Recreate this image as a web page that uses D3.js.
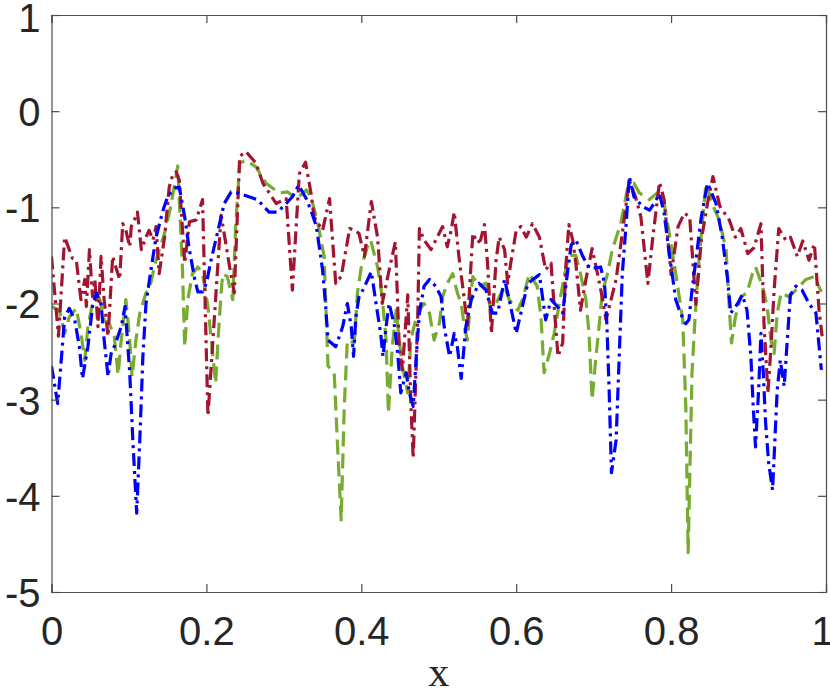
<!DOCTYPE html>
<html>
<head>
<meta charset="utf-8">
<script src="https://cdn.jsdelivr.net/npm/d3@7/dist/d3.min.js"></script>
<style>
  html, body { margin: 0; padding: 0; background: #ffffff; }
  svg { display: block; }
</style>
</head>
<body>
<div id="chart"></div>
<script>
// ---------------- data ----------------
const xTicks = [0, 0.2, 0.4, 0.6, 0.8, 1];
const xTickLabels = ["0", "0.2", "0.4", "0.6", "0.8", "1"];
const yTicks = [-5, -4, -3, -2, -1, 0, 1];
const yTickLabels = ["-5", "-4", "-3", "-2", "-1", "0", "1"];
const xLabel = "x";

// dark red dash-dot series
const redX = [0,0.009,0.017,0.027,0.032,0.038,0.043,0.045,0.049,0.053,0.056,0.060,0.064,0.068,0.073,0.079,0.083,0.088,0.092,0.096,0.101,0.103,0.107,0.111,0.116,0.122,0.126,0.131,0.135,0.139,0.146,0.152,0.157,0.161,0.165,0.172,0.178,0.187,0.195,0.202,0.219,0.230,0.236,0.243,0.251,0.264,0.273,0.290,0.303,0.311,0.320,0.328,0.335,0.339,0.350,0.359,0.367,0.374,0.385,0.391,0.397,0.404,0.413,0.421,0.427,0.436,0.444,0.449,0.453,0.460,0.464,0.467,0.473,0.475,0.481,0.490,0.498,0.505,0.511,0.516,0.520,0.526,0.533,0.537,0.544,0.550,0.554,0.559,0.563,0.568,0.574,0.578,0.585,0.589,0.593,0.600,0.606,0.613,0.621,0.630,0.638,0.645,0.649,0.654,0.660,0.664,0.668,0.673,0.677,0.683,0.690,0.698,0.705,0.711,0.716,0.729,0.737,0.746,0.754,0.761,0.770,0.776,0.785,0.791,0.800,0.809,0.817,0.824,0.832,0.839,0.847,0.854,0.863,0.875,0.883,0.890,0.899,0.907,0.916,0.920,0.925,0.929,0.933,0.939,0.948,0.954,0.963,0.970,0.978,0.985,0.991,0.995];
const redY = [-1.51,-2.34,-1.31,-1.53,-1.55,-1.96,-1.75,-2.03,-1.44,-1.93,-1.75,-2.24,-1.51,-1.96,-2.34,-1.51,-1.62,-1.75,-1.17,-1.24,-1.41,-1.20,-1.13,-1.05,-1.44,-1.31,-1.24,-1.34,-1.20,-1.69,-1.31,-0.79,-0.65,-0.63,-0.72,-1.58,-1.15,-1.13,-0.92,-3.17,-1.08,-1.62,-1.89,-0.47,-0.42,-0.54,-0.75,-0.96,-0.91,-1.86,-0.65,-0.53,-0.85,-1.10,-1.24,-0.91,-1.79,-1.72,-1.22,-1.24,-1.27,-1.51,-0.94,-1.31,-2.00,-1.65,-1.36,-2.45,-2.69,-1.91,-3.04,-3.61,-2.10,-1.22,-1.34,-1.44,-1.31,-1.20,-1.41,-1.24,-1.05,-1.51,-1.96,-2.24,-1.27,-1.37,-1.34,-1.18,-1.58,-2.31,-1.55,-1.31,-1.44,-1.79,-1.58,-1.24,-1.20,-1.31,-1.17,-1.31,-1.65,-1.58,-2.03,-2.55,-2.41,-1.62,-1.18,-1.34,-1.58,-2.07,-1.75,-1.43,-1.69,-1.93,-2.17,-1.75,-1.27,-0.72,-0.89,-1.10,-1.79,-1.34,-0.74,-0.92,-1.70,-1.20,-1.06,-1.10,-2.01,-1.34,-0.96,-0.68,-0.99,-1.13,-1.31,-1.22,-1.48,-1.42,-1.17,-2.22,-2.93,-2.45,-1.86,-1.22,-1.34,-1.31,-1.51,-1.35,-1.55,-1.38,-2.07,-2.34];

// green dashed series
const greenX = [0,0.010,0.017,0.023,0.032,0.038,0.043,0.047,0.053,0.062,0.068,0.075,0.081,0.086,0.090,0.096,0.101,0.104,0.109,0.114,0.122,0.126,0.135,0.146,0.154,0.163,0.169,0.172,0.176,0.182,0.189,0.195,0.202,0.208,0.212,0.215,0.219,0.221,0.227,0.234,0.238,0.243,0.251,0.264,0.277,0.294,0.305,0.316,0.329,0.335,0.344,0.352,0.357,0.365,0.369,0.374,0.378,0.382,0.391,0.395,0.400,0.408,0.412,0.421,0.427,0.432,0.435,0.440,0.445,0.449,0.453,0.460,0.464,0.468,0.473,0.481,0.488,0.494,0.501,0.505,0.511,0.518,0.524,0.529,0.533,0.537,0.542,0.544,0.552,0.561,0.567,0.574,0.585,0.591,0.602,0.608,0.617,0.627,0.632,0.636,0.643,0.649,0.655,0.662,0.668,0.677,0.683,0.690,0.694,0.698,0.703,0.707,0.711,0.718,0.724,0.735,0.744,0.752,0.759,0.772,0.782,0.791,0.797,0.806,0.815,0.819,0.822,0.827,0.831,0.836,0.845,0.853,0.862,0.871,0.875,0.878,0.883,0.890,0.898,0.905,0.909,0.918,0.924,0.929,0.933,0.937,0.942,0.952,0.961,0.974,0.985,0.994];
const greenY = [-2.03,-2.07,-2.31,-2.14,-2.05,-2.31,-2.59,-2.24,-2.00,-1.95,-2.17,-2.22,-2.34,-2.74,-2.38,-1.96,-2.38,-2.76,-2.38,-2.10,-1.89,-1.86,-1.55,-1.27,-0.99,-0.57,-1.62,-2.45,-1.96,-1.69,-1.62,-1.69,-2.03,-2.52,-2.83,-2.38,-1.89,-1.69,-1.72,-1.96,-1.17,-0.54,-0.51,-0.58,-0.75,-0.85,-0.84,-0.91,-0.82,-0.89,-1.17,-1.51,-2.65,-2.72,-3.42,-4.25,-3.07,-2.38,-2.41,-1.89,-1.62,-1.41,-1.34,-1.62,-1.93,-2.38,-3.14,-2.45,-2.07,-2.38,-2.65,-2.93,-2.38,-2.24,-2.10,-2.00,-2.10,-2.38,-2.20,-1.93,-1.79,-1.69,-1.89,-2.00,-2.24,-2.38,-1.86,-1.72,-1.82,-1.79,-2.07,-2.00,-1.82,-1.96,-2.07,-1.96,-1.69,-1.82,-2.14,-2.72,-2.52,-2.31,-2.03,-1.72,-1.50,-1.50,-1.69,-1.96,-2.31,-3.00,-2.55,-2.24,-1.89,-1.69,-1.44,-1.17,-0.79,-0.75,-0.85,-0.92,-0.85,-0.96,-1.24,-1.69,-2.17,-3.07,-4.59,-2.72,-2.14,-1.55,-0.75,-0.96,-1.13,-1.44,-2.03,-2.41,-2.14,-1.93,-1.89,-1.69,-1.62,-1.82,-2.03,-2.38,-2.52,-2.10,-1.89,-1.93,-1.86,-1.75,-1.72,-1.88];

// blue dash-dot series
const blueX = [0,0.008,0.013,0.017,0.023,0.030,0.036,0.040,0.047,0.053,0.058,0.064,0.068,0.073,0.077,0.083,0.090,0.095,0.101,0.105,0.110,0.114,0.118,0.122,0.129,0.135,0.144,0.150,0.159,0.165,0.172,0.178,0.185,0.189,0.195,0.200,0.206,0.215,0.223,0.232,0.240,0.255,0.266,0.281,0.292,0.303,0.311,0.319,0.329,0.335,0.342,0.350,0.354,0.357,0.367,0.376,0.382,0.387,0.390,0.393,0.397,0.402,0.413,0.419,0.425,0.428,0.432,0.436,0.443,0.447,0.451,0.458,0.462,0.467,0.471,0.475,0.481,0.488,0.496,0.503,0.507,0.514,0.520,0.524,0.529,0.535,0.542,0.552,0.561,0.569,0.576,0.585,0.591,0.600,0.608,0.615,0.630,0.638,0.645,0.653,0.660,0.666,0.671,0.677,0.686,0.694,0.703,0.709,0.714,0.717,0.720,0.723,0.729,0.733,0.737,0.742,0.746,0.752,0.763,0.772,0.778,0.785,0.791,0.797,0.806,0.812,0.819,0.823,0.827,0.832,0.839,0.847,0.858,0.866,0.873,0.877,0.886,0.892,0.898,0.903,0.906,0.909,0.913,0.916,0.919,0.922,0.926,0.931,0.934,0.937,0.941,0.946,0.950,0.954,0.961,0.969,0.978,0.987,0.994];
const blueY = [-2.65,-3.04,-2.55,-2.14,-2.05,-2.17,-2.45,-2.78,-2.45,-2.03,-1.89,-2.00,-2.38,-2.76,-2.52,-2.41,-2.24,-2.03,-2.72,-3.42,-4.18,-3.42,-2.55,-2.00,-1.62,-1.31,-1.03,-0.89,-0.80,-0.79,-1.10,-1.44,-1.75,-1.88,-1.88,-1.79,-1.55,-1.24,-0.96,-0.84,-0.85,-0.89,-0.92,-1.05,-1.05,-0.96,-0.89,-0.77,-0.91,-1.03,-1.20,-1.65,-2.03,-2.38,-2.45,-2.24,-2.00,-2.24,-2.55,-2.14,-1.93,-1.86,-1.67,-2.00,-2.31,-2.55,-2.24,-2.00,-2.24,-2.52,-2.93,-2.72,-2.93,-3.07,-2.55,-2.10,-1.82,-1.75,-1.82,-1.93,-2.24,-2.55,-2.31,-2.45,-2.78,-2.24,-1.96,-1.79,-1.86,-2.10,-2.10,-1.75,-1.96,-2.31,-2.03,-1.79,-1.70,-2.17,-1.96,-2.03,-2.10,-1.69,-1.39,-1.34,-1.51,-1.63,-1.63,-1.62,-1.79,-2.20,-2.90,-3.76,-3.42,-2.55,-1.69,-1.17,-0.68,-0.89,-0.99,-1.03,-0.96,-0.86,-1.06,-1.44,-1.96,-2.10,-2.21,-2.17,-1.86,-1.55,-1.10,-0.75,-0.96,-1.31,-1.75,-2.10,-2.00,-1.91,-2.07,-2.55,-3.07,-3.49,-2.90,-2.31,-2.72,-3.24,-3.66,-3.94,-3.42,-2.90,-2.59,-2.86,-2.38,-1.91,-1.82,-1.86,-2.00,-2.10,-2.69];

// ---------------- drawing ----------------
const W = 830, H = 695;
const margin = { left: 51.5, right: 4, top: 15, bottom: 103 };
const iw = W - margin.left - margin.right;
const ih = H - margin.top - margin.bottom;

const svg = d3.select("#chart").append("svg")
  .attr("width", W).attr("height", H)
  .attr("viewBox", `0 0 ${W} ${H}`);

const x = d3.scaleLinear().domain([0, 1]).range([0, iw]);
const y = d3.scaleLinear().domain([-5, 1]).range([ih, 0]);

const g = svg.append("g").attr("transform", `translate(${margin.left},${margin.top})`);

g.append("clipPath").attr("id", "clip")
  .append("rect").attr("width", iw).attr("height", ih);

const series = [
  { xs: greenX, ys: greenY, color: "#77AC30", dash: "15,7" },
  { xs: redX, ys: redY, color: "#A2142F", dash: "13,5,3,5" },
  { xs: blueX, ys: blueY, color: "#0000FF", dash: "13,5,3,5" }
];

const line = d3.line().x(d => x(d[0])).y(d => y(d[1]));

const plot = g.append("g").attr("clip-path", "url(#clip)");
series.forEach(s => {
  const pts = s.xs.map((xv, i) => [xv, s.ys[i]]);
  plot.append("path")
    .datum(pts)
    .attr("d", line)
    .attr("fill", "none")
    .attr("stroke", s.color)
    .attr("stroke-width", 3.2)
    .attr("stroke-dasharray", s.dash)
    .attr("stroke-linejoin", "round");
});

const axisColor = "#4d4d4d";
const fontFam = "'Liberation Sans', Arial, Helvetica, sans-serif";
const tick = 8;

const xFmt = v => xTickLabels[xTicks.indexOf(v)];
const yFmt = v => yTickLabels[yTicks.indexOf(v)];

const gx = g.append("g").attr("transform", `translate(0,${ih})`)
  .call(d3.axisBottom(x).tickValues(xTicks).tickFormat(xFmt).tickSize(-tick).tickPadding(25));
const gy = g.append("g")
  .call(d3.axisLeft(y).tickValues(yTicks).tickFormat(yFmt).tickSize(-tick).tickPadding(11));
const gt = g.append("g")
  .call(d3.axisTop(x).tickValues(xTicks).tickFormat("").tickSize(-tick));
const gr = g.append("g").attr("transform", `translate(${iw},0)`)
  .call(d3.axisRight(y).tickValues(yTicks).tickFormat("").tickSize(-tick));

[gx, gy, gt, gr].forEach(a => {
  a.select(".domain").attr("stroke", axisColor).attr("stroke-width", 1.2);
  a.selectAll(".tick line").attr("stroke", axisColor).attr("stroke-width", 1.2);
  a.selectAll(".tick text")
    .attr("fill", "#262626")
    .style("font-family", fontFam)
    .style("font-size", "40px");
});
gx.selectAll(".tick text").attr("dy", "0.71em");
// keep the last x label inside the picture, as in the reference
gx.selectAll(".tick text").filter(d => d === 1).attr("x", -4);
gy.selectAll(".tick text").attr("dy", "0.36em");
gy.selectAll(".tick text").filter(d => d === 1).attr("dy", "0.42em");

svg.append("text")
  .attr("x", margin.left + iw / 2)
  .attr("y", 686)
  .attr("text-anchor", "middle")
  .attr("fill", "#262626")
  .style("font-family", "'Liberation Serif', 'DejaVu Serif', 'Times New Roman', serif")
  .style("font-size", "42px")
  .text(xLabel);
</script>
</body>
</html>
